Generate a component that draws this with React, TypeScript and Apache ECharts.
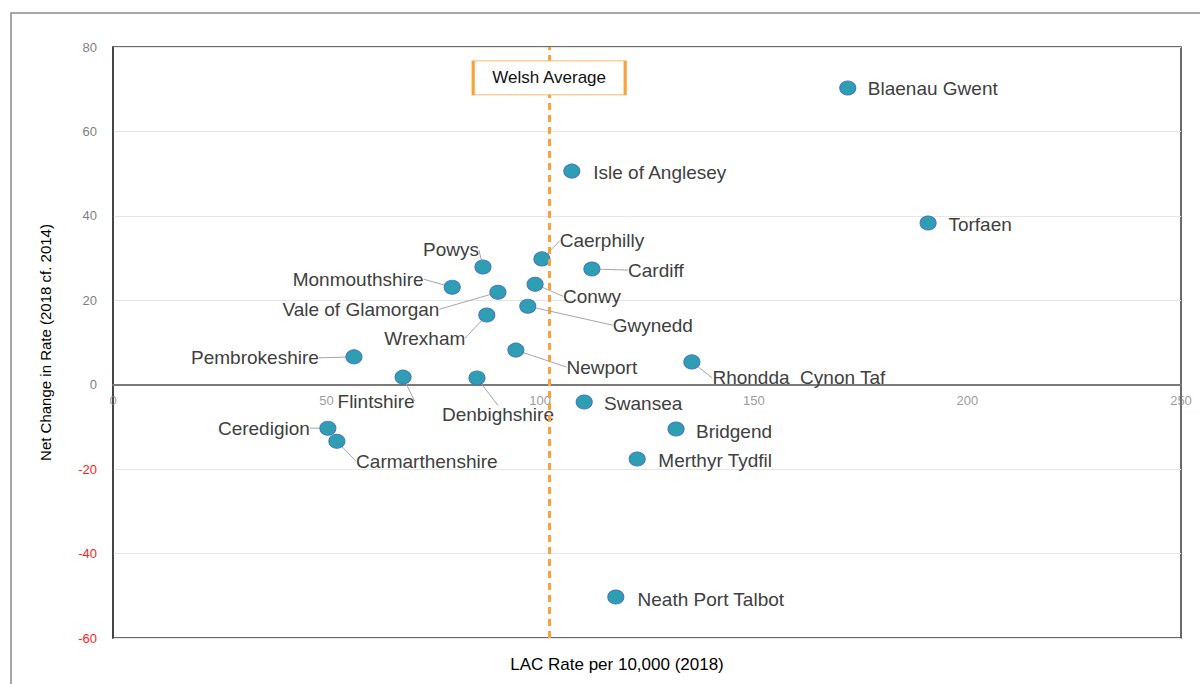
import React, { useEffect, useRef } from "react";
import * as echarts from "echarts";

const authorities = [
  "Blaenau Gwent", "Isle of Anglesey", "Torfaen", "Caerphilly", "Cardiff", "Powys",
  "Monmouthshire", "Vale of Glamorgan", "Conwy", "Gwynedd", "Wrexham", "Pembrokeshire",
  "Newport", "Rhondda  Cynon Taf", "Flintshire", "Denbighshire", "Swansea", "Bridgend",
  "Ceredigion", "Carmarthenshire", "Merthyr Tydfil", "Neath Port Talbot",
];
const lacRate2018 = [
  172.0, 107.4, 190.8, 100.4, 112.1, 86.6,
  79.4, 90.1, 98.8, 97.1, 87.5, 56.4,
  94.3, 135.5, 67.9, 85.2, 110.3, 131.8,
  50.3, 52.4, 122.7, 117.7,
];
const netChange = [
  70.3, 50.6, 38.3, 29.8, 27.4, 27.9,
  23.1, 21.9, 23.8, 18.6, 16.5, 6.6,
  8.2, 5.4, 1.8, 1.6, -4.1, -10.5,
  -10.3, -13.4, -17.6, -50.3,
];
const xTicks = [0, 50, 100, 150, 200, 250];
const WELSH_AVERAGE = 102.1;
const AVERAGE_LABEL = "Welsh Average";
const X_NAME = "LAC Rate per 10,000 (2018)";
const Y_NAME = "Net Change in Rate (2018 cf. 2014)";

// label offsets from the marker (layout only), and whether a leader line shows
const labelOffsets: [number, number, boolean][] = [
  [85, 1, false], [88, 1, false], [52, 1, false], [60, -18, true], [64, 1, true], [-32, -17, true],
  [-94, -8, true], [-137, 17, true], [57, 12, true], [125, 19, true], [-62, 23, true], [-99, 1, true],
  [86, 17, true], [107, 16, true], [-27, 24, true], [21, 37, true], [59, 1, false], [58, 2, false],
  [-64, 0, true], [90, 20, true], [78, 1, false], [95, 2, false],
];

export default function App() {
  const ref = useRef<HTMLDivElement>(null);
  useEffect(() => {
    document.body.style.margin = "0";
    const chart = echarts.init(ref.current!, undefined, { renderer: "svg" });
    const orange = "#F9A23A";
    const font = "Liberation Sans, Arial, sans-serif";
    const data = authorities.map((name, i) => ({
      name,
      value: [lacRate2018[i], netChange[i]],
      labelLine: { show: labelOffsets[i][2] },
    }));
    chart.setOption({
      animation: false,
      backgroundColor: "#fff",
      textStyle: { fontFamily: font },
      grid: {
        left: 113, right: 19, top: 47, bottom: 46,
        show: true, borderColor: "#3a3a3a", borderWidth: 1.5, backgroundColor: "transparent",
      },
      xAxis: {
        type: "value", min: 0, max: 250, interval: 50,
        axisLine: { onZero: true, lineStyle: { color: "#7a7a7a", width: 2 } },
        axisTick: { show: false },
        splitLine: { show: false },
        axisLabel: { show: false },
      },
      yAxis: {
        type: "value", min: -60, max: 80, interval: 20,
        axisLine: { show: true, lineStyle: { color: "#3a3a3a", width: 1.5 } },
        axisTick: { show: false },
        splitLine: { show: true, lineStyle: { color: "#e6e6e6", width: 1 } },
        axisLabel: {
          fontSize: 13, margin: 16,
          color: (v: any) => (Number(v) < 0 ? "#ff2020" : "#7f7f7f"),
        },
        name: Y_NAME, nameLocation: "middle", nameGap: 60,
        nameTextStyle: { color: "#000", fontSize: 15 },
      },
      graphic: [
        {
          type: "rect", silent: true, z: -1,
          shape: { x: 11, y: 13, width: 1200, height: 690 },
          style: { fill: "none", stroke: "#8a8a8a", lineWidth: 1.5 },
        },
        {
          type: "text", x: 617, y: 664,
          style: {
            text: X_NAME, fill: "#000", fontSize: 17, align: "center", verticalAlign: "middle",
            fontFamily: font,
          },
        },
      ],
      series: [
        {
          type: "scatter", data: [], z: 1, silent: true,
          markLine: {
            silent: true, symbol: "none", animation: false,
            lineStyle: { color: orange, width: 3, type: [7, 5] },
            label: { show: false },
            data: [{ xAxis: WELSH_AVERAGE }],
          },
        },
        {
          // x tick labels that sit on the zero line
          type: "scatter", z: 1, silent: true, symbolSize: 0,
          data: xTicks.map((t) => [t, 0]),
          label: {
            show: true, position: "bottom", distance: 9,
            formatter: (p: any) => String(p.value[0]),
            color: "#7f7f7f", fontSize: 13,
          },
        },
        {
          type: "scatter", z: 2,
          symbolSize: [16, 14],
          itemStyle: { color: "#2E9FB2", borderColor: "#4472C4", borderWidth: 1, opacity: 1 },
          data,
          label: {
            show: true, position: "inside", formatter: "{b}",
            color: "#404040", fontSize: 19, align: "center", verticalAlign: "middle",
          },
          labelLine: { show: true, lineStyle: { color: "#a6a6a6", width: 1 } },
          labelLayout: (p: any) => ({
            dx: labelOffsets[p.dataIndex][0],
            dy: labelOffsets[p.dataIndex][1],
            hideOverlap: false,
          }),
        },
        {
          type: "scatter", data: [], z: 3, silent: true,
          markPoint: {
            silent: true, animation: false,
            data: [{
              coord: [WELSH_AVERAGE, 72.7],
              symbol: "rect", symbolSize: [152, 34],
              itemStyle: { color: "#fff", borderColor: orange, borderWidth: 1.5 },
              label: {
                show: true, position: "inside", formatter: AVERAGE_LABEL,
                color: "#111", fontSize: 17,
              },
            }],
          },
        },
      ],
    });
    return () => chart.dispose();
  }, []);
  return <div ref={ref} style={{ position: "fixed", left: 0, top: 0, width: 1200, height: 684 }} />;
}
